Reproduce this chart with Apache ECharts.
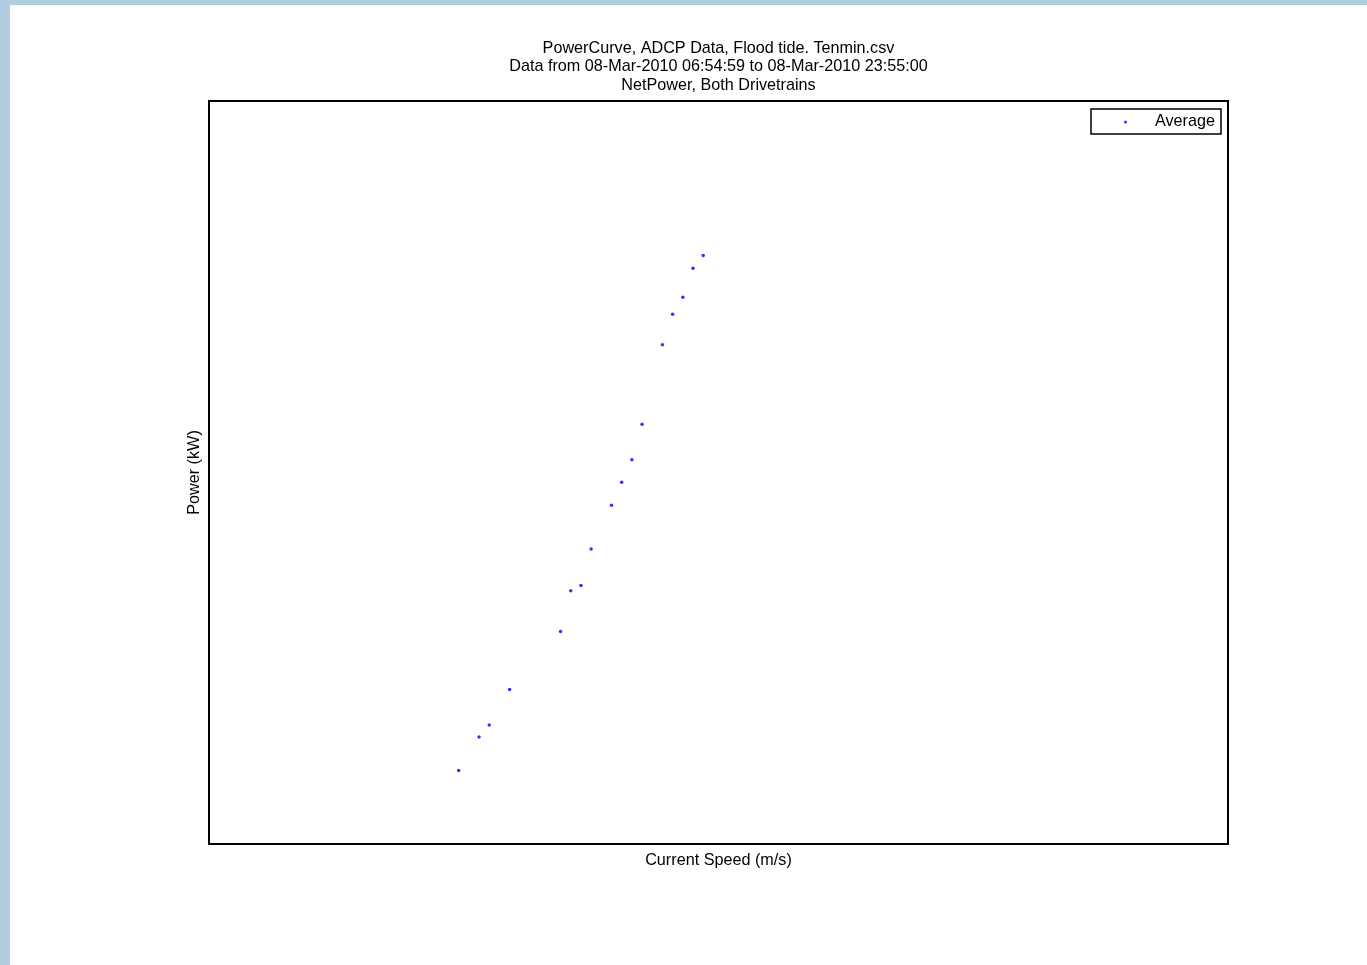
<!DOCTYPE html>
<html>
<head>
<meta charset="utf-8">
<script src="https://cdn.jsdelivr.net/npm/echarts@6/dist/echarts.min.js"></script>
<style>
  html, body { margin: 0; padding: 0; background: #ffffff; }
  #chart { width: 1367px; height: 965px; }
</style>
</head>
<body>
<div id="chart"></div>
<script>
// Binned averages of net power against current speed (flood tide)
const titleLines = [
  'PowerCurve, ADCP Data, Flood tide. Tenmin.csv',
  'Data from 08-Mar-2010 06:54:59 to 08-Mar-2010 23:55:00',
  'NetPower, Both Drivetrains'
];
const seriesName = 'Average';
const xAxisName = 'Current Speed (m/s)';
const yAxisName = 'Power (kW)';

// bin-centre speeds (m/s)
const speeds = [1.225, 1.325, 1.375, 1.475, 1.725, 1.775, 1.825, 1.875, 1.975,
                2.025, 2.075, 2.125, 2.225, 2.275, 2.325, 2.375, 2.425];
// mean net power per bin (kW)
const powers = [99, 144, 160, 208, 286, 341, 348, 397, 456,
                487, 517, 565, 672, 713, 736, 775, 792];

const xRange = [0, 5];
const yRange = [0, 1000];

const points = speeds.map((s, i) => [s, powers[i]]);

const chart = echarts.init(document.getElementById('chart'), null, { renderer: 'canvas' });

const font = 'Arial, "Liberation Sans", Helvetica, sans-serif';
const fs = 16.2;
const plot = { left: 209, top: 101, width: 1019, height: 743 };
const cx = plot.left + plot.width / 2;

chart.setOption({
  backgroundColor: '#ffffff',
  animation: false,
  textStyle: { fontFamily: font },
  graphic: [
    { type: 'rect', z: -10, shape: { x: 0, y: 0, width: 10, height: 965 }, style: { fill: '#b3cde0' } },
    { type: 'rect', z: -10, shape: { x: 0, y: 0, width: 1367, height: 5 }, style: { fill: '#b3cde0' } }
  ].concat(titleLines.map((t, i) => ({
    type: 'text',
    x: cx,
    y: 48.5 + i * 18.5,
    style: {
      text: t,
      fill: '#000',
      font: fs + 'px ' + font,
      align: 'center',
      verticalAlign: 'middle'
    }
  }))),
  legend: {
    data: [{ name: seriesName, icon: 'circle' }],
    left: 1091,
    top: 109,
    orient: 'vertical',
    padding: [5, 6, 4, 33],
    itemWidth: 3,
    itemHeight: 3,
    borderColor: '#000',
    borderWidth: 1.5,
    borderRadius: 0,
    backgroundColor: '#fff',
    textStyle: { color: '#000', fontSize: fs, fontFamily: font, padding: [0, 0, 0, 23] }
  },
  grid: {
    left: plot.left,
    top: plot.top,
    width: plot.width,
    height: plot.height,
    show: true,
    borderColor: '#000',
    borderWidth: 2,
    backgroundColor: 'transparent'
  },
  xAxis: {
    type: 'value',
    min: xRange[0],
    max: xRange[1],
    name: xAxisName,
    nameLocation: 'middle',
    nameGap: 9,
    nameTextStyle: { color: '#000', fontSize: fs, fontFamily: font },
    axisLine: { show: false },
    axisTick: { show: false },
    axisLabel: { show: false },
    splitLine: { show: false }
  },
  yAxis: {
    type: 'value',
    min: yRange[0],
    max: yRange[1],
    name: yAxisName,
    nameLocation: 'middle',
    nameGap: 6,
    nameTextStyle: { color: '#000', fontSize: fs, fontFamily: font },
    axisLine: { show: false },
    axisTick: { show: false },
    axisLabel: { show: false },
    splitLine: { show: false }
  },
  series: [{
    name: seriesName,
    type: 'scatter',
    data: points,
    symbol: 'circle',
    symbolSize: 3.5,
    itemStyle: { color: '#0000ff' }
  }]
});
</script>
</body>
</html>
